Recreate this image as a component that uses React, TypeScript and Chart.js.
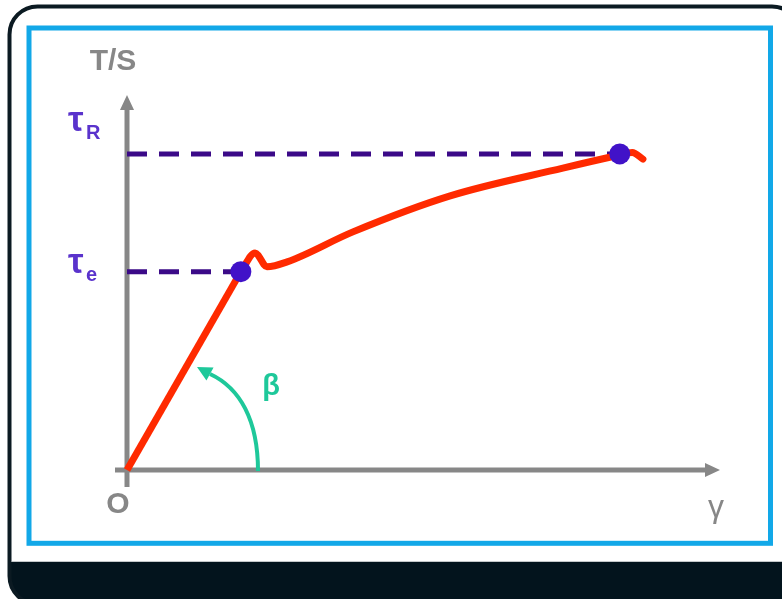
import React, { useEffect, useRef } from 'react';
import { Chart, registerables } from 'chart.js';

Chart.register(...registerables);

// ---- data (strain γ, stress T/S in arbitrary units 0..100) ----
const elasticStrain = [0, 19.2];
const elasticStress = [0, 52.9];
const plasticStrain = [19.2, 21.6, 23.6, 27.0, 38.1, 54.5, 73.5, 83.1, 85.2, 87.0];
const plasticStress = [52.9, 57.9, 54.2, 55.5, 63.5, 73.1, 80.5, 84.0, 84.7, 82.9];
const keyStrain = [19.2, 83.1];
const keyStress = [52.9, 84.3];
const keySymbols = ['τ', 'τ'];
const keySubscripts = ['e', 'R'];
const axisTitleY = 'T/S';
const axisTitleX = 'γ';
const originLabel = 'O';
const angleLabel = 'β';

const RED = '#ff2a00';
const DOT = '#4112c8';
const DASH = '#3b0a88';
const AXIS = '#878787';
const GREEN = '#1ec89a';
const LABEL = '#5a33cc';
const FONT = '"Liberation Sans", Arial, sans-serif';

function roundRectPath(ctx: CanvasRenderingContext2D, x: number, y: number, w: number, h: number, r: number) {
  ctx.beginPath();
  ctx.moveTo(x + r, y);
  ctx.lineTo(x + w - r, y);
  ctx.arcTo(x + w, y, x + w, y + r, r);
  ctx.lineTo(x + w, y + h - r);
  ctx.arcTo(x + w, y + h, x + w - r, y + h, r);
  ctx.lineTo(x + r, y + h);
  ctx.arcTo(x, y + h, x, y + h - r, r);
  ctx.lineTo(x, y + r);
  ctx.arcTo(x, y, x + r, y, r);
  ctx.closePath();
}

function tri(ctx: CanvasRenderingContext2D, tx: number, ty: number, bx: number, by: number, hw: number) {
  const dx = tx - bx, dy = ty - by;
  const len = Math.hypot(dx, dy);
  const px = -dy / len * hw, py = dx / len * hw;
  ctx.beginPath();
  ctx.moveTo(tx, ty);
  ctx.lineTo(bx + px, by + py);
  ctx.lineTo(bx - px, by - py);
  ctx.closePath();
  ctx.fill();
}

const decorPlugin = {
  id: 'decor',
  beforeDraw(chart: any) {
    const ctx: CanvasRenderingContext2D = chart.ctx;
    const W = chart.width, H = chart.height;
    ctx.save();
    ctx.fillStyle = '#ffffff';
    ctx.fillRect(0, 0, W, H);
    // outer dark rounded frame with bottom band
    roundRectPath(ctx, 9.5, 6.5, 790.5, 597.5, 28);
    ctx.save();
    ctx.clip();
    ctx.fillStyle = '#03141d';
    ctx.fillRect(0, 562, W, 60);
    ctx.restore();
    ctx.lineWidth = 4;
    ctx.strokeStyle = '#0b1a22';
    ctx.stroke();
    ctx.fillStyle = '#c4c8ca';
    ctx.fillRect(12, 561, W, 1);
    // light blue inner frame
    ctx.lineWidth = 5;
    ctx.strokeStyle = '#12a8e8';
    ctx.strokeRect(29, 28, 741.5, 515.3);
    ctx.restore();
  },
  beforeDatasetsDraw(chart: any) {
    const ctx: CanvasRenderingContext2D = chart.ctx;
    const xs = chart.scales.x, ys = chart.scales.y;
    const ox = xs.getPixelForValue(0), oy = ys.getPixelForValue(0);
    const xt = xs.getPixelForValue(xs.max), yt = ys.getPixelForValue(ys.max);
    ctx.save();
    // axes
    ctx.strokeStyle = AXIS;
    ctx.fillStyle = AXIS;
    ctx.lineWidth = 5;
    ctx.lineCap = 'butt';
    ctx.beginPath();
    ctx.moveTo(ox, oy + 17);
    ctx.lineTo(ox, yt + 13);
    ctx.stroke();
    ctx.beginPath();
    ctx.moveTo(ox - 12, oy);
    ctx.lineTo(xt - 13, oy);
    ctx.stroke();
    tri(ctx, ox, yt, ox, yt + 15, 7);
    tri(ctx, xt, oy, xt - 15, oy, 7);

    // angle arc β
    ctx.strokeStyle = GREEN;
    ctx.fillStyle = GREEN;
    ctx.lineWidth = 4;
    ctx.beginPath();
    ctx.moveTo(ox + 131, oy + 1);
    ctx.bezierCurveTo(ox + 131, oy - 50, ox + 113, oy - 82, ox + 83, oy - 96);
    ctx.stroke();
    tri(ctx, ox + 70, oy - 103, ox + 83, oy - 96, 7.5);

    // texts
    ctx.textBaseline = 'alphabetic';
    ctx.fillStyle = AXIS;
    ctx.textAlign = 'center';
    ctx.font = `bold 30px ${FONT}`;
    ctx.fillText(axisTitleY, ox - 14, 70);
    ctx.fillText(originLabel, ox - 9, oy + 43);
    ctx.font = `32px ${FONT}`;
    ctx.fillText(axisTitleX, xt - 4, oy + 47);
    ctx.fillStyle = GREEN;
    ctx.font = `bold 29px ${FONT}`;
    ctx.fillText(angleLabel, ox + 144, oy - 75);

    // τ labels
    ctx.textAlign = 'left';
    ctx.fillStyle = LABEL;
    const baseOffsets = [1, -23];
    for (let i = 0; i < keyStress.length; i++) {
      const py = ys.getPixelForValue(keyStress[i]) + baseOffsets[i];
      ctx.font = `bold 35px ${FONT}`;
      ctx.fillText(keySymbols[i], 68, py);
      ctx.font = `bold 20px ${FONT}`;
      ctx.fillText(keySubscripts[i], 86, py + 8);
    }
    ctx.restore();
  },
};

export default function App() {
  const ref = useRef<HTMLCanvasElement | null>(null);
  useEffect(() => {
    if (!ref.current) return;
    const pts = (xs: number[], ys: number[]) => xs.map((x, i) => ({ x, y: ys[i] }));
    const chart = new Chart(ref.current, {
      type: 'scatter',
      data: {
        datasets: [
          {
            label: 'key points',
            data: pts(keyStrain, keyStress),
            pointRadius: 10.5,
            pointBackgroundColor: DOT,
            pointBorderWidth: 0,
            showLine: false,
            order: 0,
          },
          {
            label: 'elastic',
            data: pts(elasticStrain, elasticStress),
            showLine: true,
            borderColor: RED,
            borderWidth: 7,
            pointRadius: 0,
            tension: 0,
            order: 1,
          },
          {
            label: 'plastic',
            data: pts(plasticStrain, plasticStress),
            showLine: true,
            borderColor: RED,
            borderWidth: 7,
            pointRadius: 0,
            cubicInterpolationMode: 'monotone',
            borderCapStyle: 'round',
            borderJoinStyle: 'round',
            order: 1,
          },
          ...keyStress.map((s, i) => ({
            label: 'dash' + i,
            data: [{ x: 0, y: s }, { x: keyStrain[i], y: s }],
            showLine: true,
            borderColor: DASH,
            borderWidth: 5,
            borderDash: [20, 12],
            pointRadius: 0,
            order: 2,
          })),
        ],
      },
      options: {
        responsive: false,
        animation: false,
        devicePixelRatio: 1,
        clip: false as any,
        layout: { padding: { left: 127, right: 62, top: 95, bottom: 129 } },
        scales: {
          x: { type: 'linear', min: 0, max: 100, display: false },
          y: { type: 'linear', min: 0, max: 100, display: false },
        },
        plugins: { legend: { display: false }, tooltip: { enabled: false } },
      },
      plugins: [decorPlugin],
    });
    return () => chart.destroy();
  }, []);
  return (
    <div style={{ position: 'fixed', left: 0, top: 0, width: 782, height: 599 }}>
      <canvas ref={ref} width={782} height={599} />
    </div>
  );
}
